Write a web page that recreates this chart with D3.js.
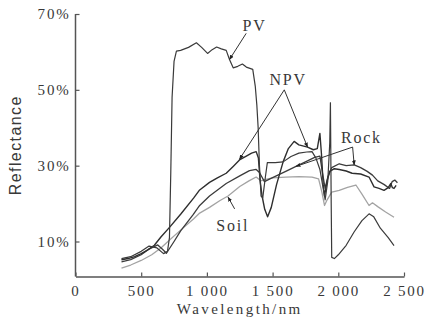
<!DOCTYPE html>
<html>
<head>
<meta charset="utf-8">
<script src="https://d3js.org/d3.v7.min.js"></script>
<style>
  body { margin: 0; background: #fff; }
  svg text { fill: #383838; }
</style>
</head>
<body>
<script>
// ---- data: [wavelength nm, reflectance %] ----
var pv = [[350,5.5],[420,6],[500,7.4],[560,8.8],[620,8.3],[670,6.8],[700,7.4],[715,11],[725,28],[735,48],
  [750,57.5],[768,60.2],[800,60.4],[860,61.2],[920,62.4],[960,61.2],[1005,59.6],[1040,60.6],[1074,61.3],
  [1110,60.8],[1147,60.4],[1172,58],[1200,55.8],[1235,56.2],[1270,56.8],[1300,56],[1349,55.4],[1368,51],
  [1380,46],[1390,40],[1400,30],[1412,22],[1425,21.5],[1445,27],[1460,30.8],[1520,30.8],[1580,31],
  [1640,32.4],[1700,33.3],[1760,33.6],[1800,33.7],[1830,32],[1860,29],[1880,25],[1900,21],[1920,26],
  [1935,36],[1940,46.6],[1946,20],[1950,5.8],[1970,5.5],[2000,6.5],[2060,9],[2120,12.5],[2180,15.5],
  [2234,17.3],[2270,16.5],[2320,13.5],[2380,11],[2424,8.9]];

var npv = [[350,5.2],[400,5.5],[450,6],[500,6.8],[550,7.8],[600,9],[650,11.2],[717,13.8],[800,17.2],
  [900,21.5],[945,23.6],[1020,25.6],[1080,26.8],[1147,28],[1200,29.8],[1248,31.5],[1300,32.5],[1340,33.3],
  [1375,33.7],[1392,32],[1405,26],[1420,22],[1440,18.5],[1462,16.5],[1490,19],[1530,25],[1580,31],
  [1620,34.5],[1664,36.4],[1700,35.5],[1766,34.9],[1810,34.2],[1840,34.5],[1860,38.5],[1872,33],
  [1885,25],[1895,22],[1915,26],[1935,28.5],[1970,29.2],[2007,29],[2060,28.6],[2105,28],[2170,27.8],
  [2234,27],[2272,24.4],[2310,24],[2348,23.5],[2380,24.2],[2399,25.3],[2412,24.2],[2424,24],[2440,24.8]];

var rock = [[350,4.6],[420,5.2],[500,6.5],[560,8],[626,9.1],[660,8],[692,6.9],[750,10],[800,12.8],
  [894,17],[945,19.5],[1020,22],[1147,25.3],[1250,27.3],[1324,28.7],[1375,29],[1400,28.2],[1438,25.8],
  [1480,26.5],[1540,27.5],[1600,28.5],[1678,29.8],[1750,31],[1820,32.2],[1860,32.5],[1880,28],
  [1900,24],[1920,27],[1950,29.5],[2007,30.5],[2060,30],[2121,30.2],[2170,29.5],[2220,28.5],
  [2260,27.5],[2300,26],[2350,25],[2390,24],[2410,25.8],[2430,26.2],[2450,25.5]];

var soil = [[350,3],[420,3.8],[500,5],[580,6.5],[650,8.3],[720,10.5],[800,13],[900,16],[945,17.5],
  [1020,19],[1100,20.8],[1161,22],[1250,24.5],[1320,26],[1375,27],[1410,26],[1440,26.3],[1500,26.8],
  [1600,27],[1700,27.1],[1800,27],[1850,26.5],[1875,23],[1895,19.5],[1915,21],[1950,23],[2007,23.5],
  [2070,24.3],[2134,24.9],[2180,22.5],[2234,19.5],[2260,20.2],[2300,19.2],[2360,17.8],[2424,16.4]];

var xTicks = [0, 500, 1000, 1500, 2000, 2500];
var xTickLabels = ["0", "500", "1 000", "1 500", "2 000", "2 500"];
var yTicks = [10, 30, 50, 70];
var yTickLabels = ["10%", "30%", "50%", "70%"];

// labels and leader lines, in data units
var labels = [
  { text: "PV",   at: [1271, 65.5], lines: [[[1299, 64.9], [1172, 58.0]]] },
  { text: "NPV",  at: [1476, 51.3], lines: [[[1589, 50], [1248, 31.7]], [[1589, 50], [1766, 34.9]]] },
  { text: "Rock", at: [2020, 36.0], lines: [[[2109, 34.9], [1678, 29.8]], [[2109, 34.9], [2121, 30.2]]] },
  { text: "Soil", at: [1071, 12.8], lines: [[[1211, 18.6], [1161, 21.7]]] }
];

var width = 427, height = 325;
var svg = d3.select("body").append("svg")
    .attr("width", width)
    .attr("height", height);

var x = d3.scaleLinear().domain([0, 2500]).range([75.5, 404]);
var y = d3.scaleLinear().domain([10, 70]).range([241.5, 14]);
var yBottom = 276.5;

var serif = "'Liberation Serif', 'Times New Roman', serif";

// axes, ticks pointing inward
var xAxis = svg.append("g")
    .attr("transform", "translate(0," + yBottom + ")")
    .call(d3.axisBottom(x).tickValues(xTicks)
      .tickFormat(function (d, i) { return xTickLabels[i]; })
      .tickSizeInner(-4).tickSizeOuter(0).tickPadding(9));

var yAxis = svg.append("g")
    .attr("transform", "translate(" + x(0) + ",0)")
    .call(d3.axisLeft(y).tickValues(yTicks)
      .tickFormat(function (d, i) { return yTickLabels[i]; })
      .tickSizeInner(-4).tickSizeOuter(0).tickPadding(5));

// stretch the y axis line down to the x axis
yAxis.select(".domain").attr("d", "M0," + yBottom + "V" + y(70));

[xAxis, yAxis].forEach(function (g) {
  g.select(".domain").attr("stroke", "#555").attr("stroke-width", 1.5);
  g.selectAll(".tick line").attr("stroke", "#555").attr("stroke-width", 1.2);
  g.selectAll(".tick text")
    .attr("fill", "#383838")
    .style("font-family", serif)
    .style("font-size", "15px")
    .style("letter-spacing", "1.8px");
});

// axis titles
svg.append("text")
    .attr("x", (x(0) + x(2500)) / 2)
    .attr("y", 314)
    .attr("text-anchor", "middle")
    .style("font-family", serif)
    .style("font-size", "15px")
    .style("letter-spacing", "2.4px")
    .text("Wavelength/nm");

svg.append("text")
    .attr("transform", "translate(21," + (yBottom + y(70)) / 2 + ") rotate(-90)")
    .attr("text-anchor", "middle")
    .style("font-family", "'Liberation Sans', Arial, sans-serif")
    .style("font-size", "16px")
    .style("letter-spacing", "1.4px")
    .text("Reflectance");

// spectra
var line = d3.line()
    .x(function (d) { return x(d[0]); })
    .y(function (d) { return y(d[1]); });

var series = [
  { data: soil, color: "#a3a3a3", w: 1.3 },
  { data: rock, color: "#3c3c3c", w: 1.3 },
  { data: npv,  color: "#2e2e2e", w: 1.4 },
  { data: pv,   color: "#3a3a3a", w: 1.2 }
];

svg.selectAll("path.spectrum")
    .data(series)
    .enter()
    .append("path")
    .attr("class", "spectrum")
    .attr("d", function (d) { return line(d.data); })
    .attr("fill", "none")
    .attr("stroke", function (d) { return d.color; })
    .attr("stroke-width", function (d) { return d.w; })
    .attr("stroke-linejoin", "round");

// arrow head marker
svg.append("defs").append("marker")
    .attr("id", "head")
    .attr("viewBox", "0 0 10 10")
    .attr("refX", 9).attr("refY", 5)
    .attr("markerWidth", 5).attr("markerHeight", 5)
    .attr("orient", "auto")
  .append("path")
    .attr("d", "M0,1L10,5L0,9Z")
    .attr("fill", "#222");

labels.forEach(function (l) {
  l.lines.forEach(function (pts) {
    svg.append("path")
      .attr("d", line(pts))
      .attr("fill", "none")
      .attr("stroke", "#333")
      .attr("stroke-width", 1)
      .attr("marker-end", "url(#head)");
  });
  svg.append("text")
    .attr("x", x(l.at[0]))
    .attr("y", y(l.at[1]))
    .style("font-family", serif)
    .style("font-size", "16px")
    .style("letter-spacing", "1.8px")
    .text(l.text);
});
</script>
</body>
</html>
